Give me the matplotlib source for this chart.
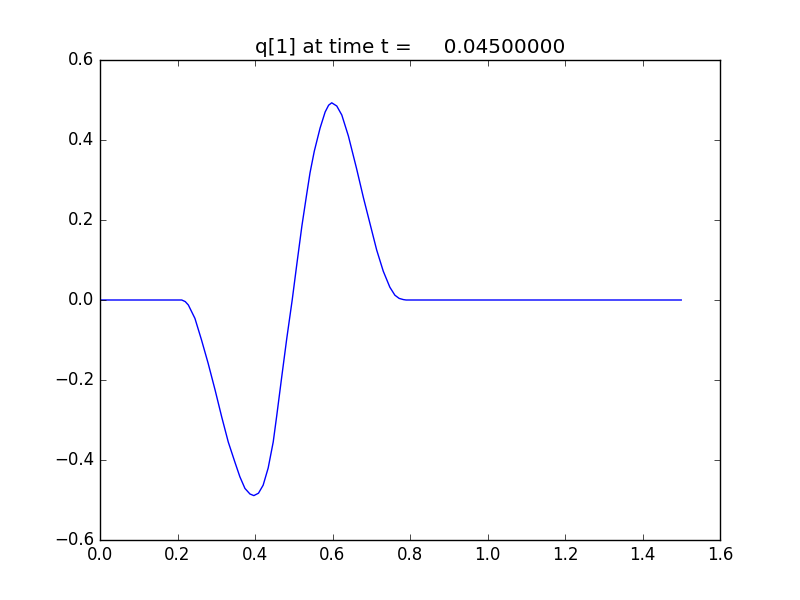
import numpy as np
from matplotlib import pyplot as plt

plt.style.use('classic')

# values
x = [0.0, 0.1, 0.211, 0.220, 0.228, 0.245, 0.262, 0.279, 0.297, 0.314, 0.331,
     0.348, 0.361, 0.374, 0.387, 0.397, 0.409, 0.421, 0.434, 0.447, 0.456,
     0.469, 0.482, 0.496, 0.508, 0.521, 0.533, 0.542, 0.553, 0.568, 0.581,
     0.590, 0.598, 0.611, 0.624, 0.641, 0.662, 0.680, 0.697, 0.714, 0.731,
     0.748, 0.761, 0.772, 0.783, 0.79, 1.0, 1.5]
q = [0.0, 0.0, 0.0, -0.004, -0.0125, -0.046, -0.1, -0.158, -0.225, -0.292, -0.355,
     -0.405, -0.442, -0.471, -0.485, -0.489, -0.483, -0.463, -0.42, -0.355, -0.29,
     -0.192, -0.096, 0.0, 0.09, 0.185, 0.262, 0.318, 0.372, 0.43, 0.47,
     0.487, 0.493, 0.485, 0.4625, 0.41, 0.329, 0.255, 0.19, 0.125, 0.072,
     0.032, 0.012, 0.004, 0.001, 0.0, 0.0, 0.0]
t = 0.045

fig = plt.figure(figsize=(8, 6), dpi=100)
plt.plot(np.array(x), np.array(q), 'b-')
plt.title('q[1] at time t = %14.8f' % t)
plt.xlim(0, 1.6)
plt.ylim(-0.6, 0.6)
plt.savefig('out.png', dpi=100)
